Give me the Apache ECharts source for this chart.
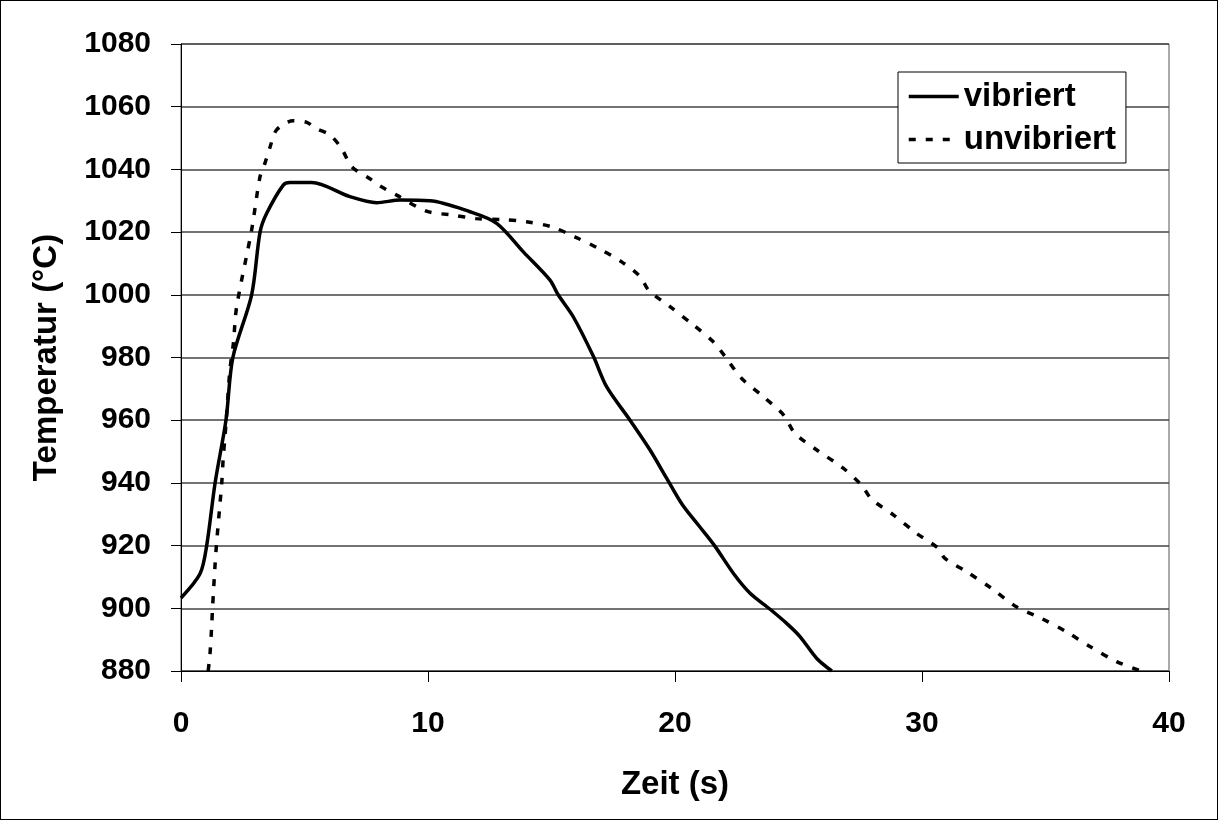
<!DOCTYPE html>
<html>
<head>
<meta charset="utf-8">
<script src="https://cdn.jsdelivr.net/npm/echarts@6/dist/echarts.min.js"></script>
<style>
  html, body { margin: 0; padding: 0; background: #fff; }
  #chart { width: 1218px; height: 820px; box-sizing: border-box; border: 1px solid #000; }
</style>
</head>
<body>
<div id="chart"></div>
<script>
// Zeit (s) und Temperatur (°C)
var vibZeit = [0, 0.77, 1.04, 1.38, 1.82, 2.1, 2.86, 3.2, 3.47, 4.14, 4.41, 5.29, 6.84, 7.92, 8.87, 10.08, 11.7, 12.78, 13.86, 14.94, 15.27, 15.88, 16.7, 17.23, 18.18, 18.99, 19.66, 20.3, 21.0, 21.6, 22.36, 23.04, 23.85, 24.52, 25.06, 25.74, 26.35];
var vibTemp = [903.3, 911, 920, 940, 960, 980, 1000, 1020, 1026, 1035, 1035.8, 1035.8, 1031.3, 1029.4, 1030.2, 1030, 1026.5, 1022.8, 1013.7, 1004.7, 1000, 993, 980.3, 970.7, 960, 950.5, 941.5, 933, 926, 920, 911.2, 904.8, 899.7, 895.2, 891, 884, 880];

var unvibZeit = [1.1, 1.17, 1.24, 1.28, 1.38, 1.44, 1.58, 1.65, 1.71, 1.78, 1.85, 1.98, 2.12, 2.25, 2.86, 3.2, 3.4, 3.6, 3.87, 4.54, 5.09, 5.49, 6.03, 6.5, 6.91, 7.65, 8.06, 8.73, 9.94, 11.02, 11.96, 13.04, 13.99, 15.0, 15.94, 16.9, 17.84, 18.59, 18.93, 19.8, 20.74, 21.55, 22.03, 22.7, 23.58, 24.39, 24.86, 25.74, 26.81, 27.55, 27.96, 28.84, 29.78, 30.66, 30.93, 31.8, 32.81, 33.82, 34.83, 35.85, 36.8, 37.88, 38.83];
var unvibTemp = [880, 885, 894, 900.5, 914, 920.7, 933.5, 940, 948, 954.7, 962, 976, 984.5, 996, 1020.7, 1037.7, 1042, 1047, 1052.6, 1055.5, 1055, 1053, 1051, 1046.7, 1040.9, 1037, 1034.7, 1031.8, 1026.7, 1025.4, 1024.3, 1024, 1023.3, 1021.7, 1018.5, 1014.8, 1010.5, 1005.8, 1001.5, 996.2, 990.4, 985, 980.3, 973.3, 967.5, 961.7, 955.8, 950.5, 944.7, 939.3, 934.8, 929.8, 923.9, 919.1, 915.9, 911.7, 906.4, 900.5, 896.8, 892.5, 887.8, 883, 880.1];

var xTicks = [0, 10, 20, 30, 40];
var yMin = 880, yMax = 1080, yStep = 20;

function paare (xs, ys) {
  var out = [];
  for (var i = 0; i < xs.length; i++) out.push([xs[i], ys[i]]);
  return out;
}

var chartDom = document.getElementById('chart');
var myChart = echarts.init(chartDom);
var option;

var fontFam = 'Liberation Sans, Arial, sans-serif';

option = {
  animation: false,
  backgroundColor: '#fff',
  grid: {
    left: 180, right: 48, top: 43, bottom: 148,
    show: true, borderColor: '#555', borderWidth: 1
  },
  legend: {
    orient: 'vertical',
    left: 897, top: 71,
    padding: [8, 10, 7, 9],
    itemGap: 10,
    itemWidth: 50, itemHeight: 14,
    itemStyle: { opacity: 0 },
    lineStyle: { width: 3.5 },
    backgroundColor: '#fff',
    borderColor: '#000', borderWidth: 1,
    borderRadius: 0,
    textStyle: { fontFamily: fontFam, fontWeight: 'bold', fontSize: 33, color: '#000' },
    data: ['vibriert', 'unvibriert']
  },
  xAxis: {
    type: 'value',
    min: xTicks[0], max: xTicks[xTicks.length - 1], interval: 10,
    name: 'Zeit (s)',
    nameLocation: 'middle',
    nameGap: 97,
    nameTextStyle: { fontFamily: fontFam, fontWeight: 'bold', fontSize: 33, color: '#000' },
    axisLine: { lineStyle: { color: '#000', width: 1 } },
    axisTick: { show: true, inside: false, length: 11, lineStyle: { color: '#000' } },
    axisLabel: { fontFamily: fontFam, fontWeight: 'bold', fontSize: 30, color: '#000', margin: 38 },
    splitLine: { show: false }
  },
  yAxis: {
    type: 'value',
    min: yMin, max: yMax, interval: yStep,
    name: 'Temperatur (°C)',
    nameLocation: 'middle',
    nameGap: 118,
    nameTextStyle: { fontFamily: fontFam, fontWeight: 'bold', fontSize: 33, color: '#000' },
    axisLine: { show: true, lineStyle: { color: '#000', width: 1 } },
    axisTick: { show: true, inside: false, length: 10, lineStyle: { color: '#000' } },
    axisLabel: { fontFamily: fontFam, fontWeight: 'bold', fontSize: 30, color: '#000', margin: 30,
      formatter: function (v) { return String(v); } },
    splitLine: { show: true, lineStyle: { color: '#444', width: 1.5 } }
  },
  series: [
    {
      name: 'vibriert',
      type: 'line',
      data: paare(vibZeit, vibTemp),
      showSymbol: false,
      symbol: 'none',
      smooth: 0.3,
      clip: true,
      lineStyle: { color: '#000', width: 3.5, type: 'solid' },
      itemStyle: { color: '#000' }
    },
    {
      name: 'unvibriert',
      type: 'line',
      data: paare(unvibZeit, unvibTemp),
      showSymbol: false,
      symbol: 'none',
      smooth: 0.3,
      clip: true,
      lineStyle: { color: '#000', width: 3.5, type: [7, 10] },
      itemStyle: { color: '#000' }
    }
  ]
};

option && myChart.setOption(option);
</script>
</body>
</html>
